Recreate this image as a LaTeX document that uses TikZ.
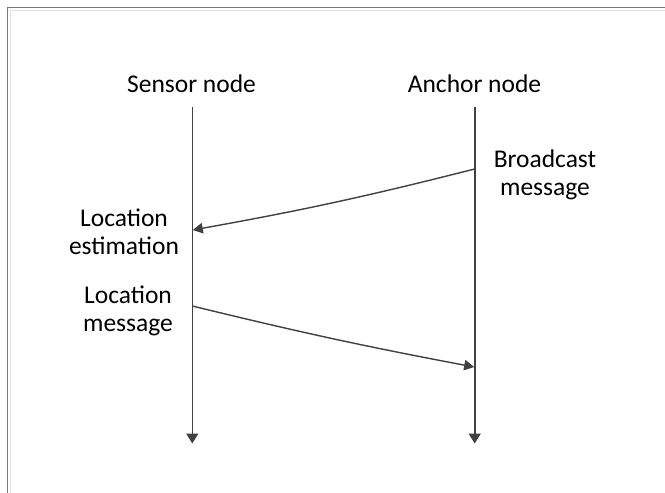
\documentclass[tikz,border=0pt]{standalone}
\usepackage{fontspec}
\setmainfont{Carlito}
\usetikzlibrary{arrows.meta}
\definecolor{ln}{HTML}{404040}
\definecolor{fr}{HTML}{7A7A7A}
\definecolor{frl}{HTML}{E2E2E2}
\begin{document}
\begin{tikzpicture}[x=1pt,y=-1pt,
  lbl/.style={font=\fontsize{25.5}{28}\selectfont, align=center, inner sep=0pt, text=black, anchor=base},
  life/.style={draw=ln, line width=1.6pt, -{Triangle[length=10pt,width=12pt]}},
  msg/.style={draw=ln, line width=1.4pt, -{Triangle[length=10pt,width=10.5pt]}}]
\useasboundingbox (0,0) rectangle (665,493);
\fill[white] (0,0) rectangle (665,493);
\draw[frl, line width=1pt] (10.5,493) -- (10.5,10.5) -- (665,10.5);
\draw[fr, line width=1.6pt] (7.5,493) -- (7.5,7.5) -- (665,7.5);
% labels (base = baseline of last line)
\node[lbl] (sl) at (191.5,92.3) {Sensor node};
\node[lbl] (al) at (474.5,92.3) {Anchor node};
\node[lbl] (bl) at (545,195.5) {Broadcast\\message};
\node[lbl] (el) at (124,254.5) {Location\\estimation};
\node[lbl] (ml) at (128,331) {Location\\message};
% lifelines
\coordinate (s0) at (192.3,106.5);
\coordinate (s1) at (192.3,443.5);
\coordinate (a0) at (474.7,106.5);
\coordinate (a1) at (474.7,443.5);
\draw[life] (s0) -- (s1);
\draw[life] (a0) -- (a1);
% messages
\coordinate (bs) at (474.7,169);
\coordinate (be) at (192.8,230);
\coordinate (ms) at (192.3,306);
\coordinate (me) at (474.2,367);
\draw[msg] (bs) to[bend left=2] (be);
\draw[msg] (ms) to[bend right=1.5] (me);
\end{tikzpicture}
\end{document}
